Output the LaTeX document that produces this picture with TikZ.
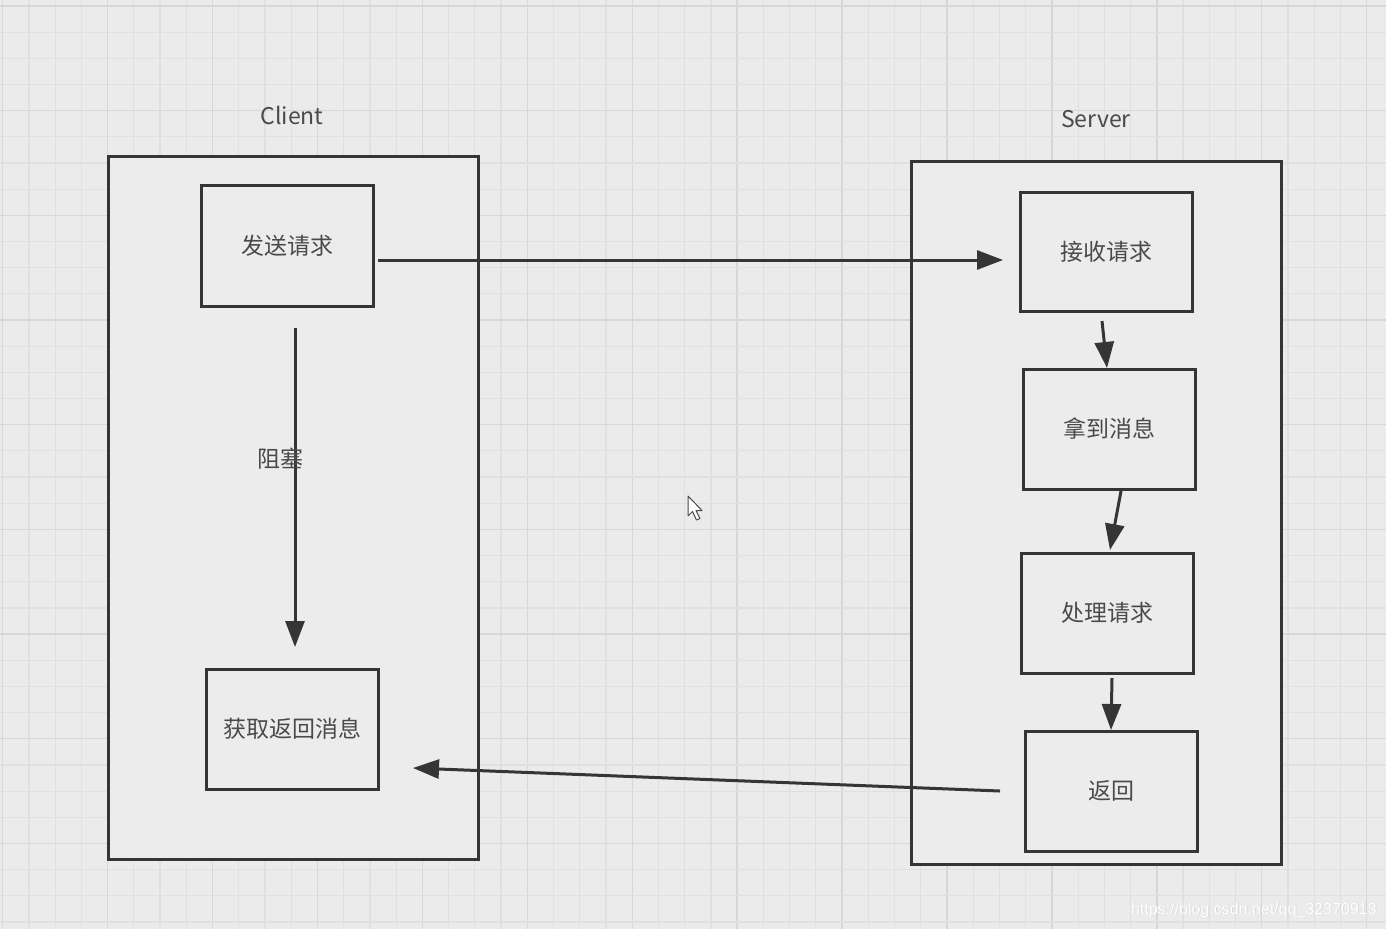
\documentclass[tikz,border=0pt]{standalone}
\usepackage{fontspec}
\setmainfont{Noto Sans CJK SC}
\newfontfamily\wmfont{Liberation Sans}
\usetikzlibrary{arrows.meta}
\definecolor{bg}{HTML}{EBEBEB}
\definecolor{inner}{HTML}{ECECEC}
\definecolor{gridminor}{HTML}{E0E0E0}
\definecolor{gridmajor}{HTML}{D7D7D7}
\definecolor{edge}{HTML}{353535}
\definecolor{txt}{HTML}{4A4A4A}
\begin{document}
\begin{tikzpicture}[x=1pt,y=-1pt,
  frame/.style={draw=edge,fill=inner,line width=3pt,inner sep=0pt,minimum width=370pt,minimum height=703pt},
  box/.style={draw=edge,fill=inner,line width=3pt,inner sep=0pt,minimum width=172pt,minimum height=120pt,
    font=\fontsize{23}{23}\selectfont,text=txt},
  lbl/.style={font=\fontsize{23}{23}\selectfont,text=txt,inner sep=0pt},
  flow/.style={draw=edge,line width=3pt,-{Triangle[length=26pt,width=19pt]}}]
\useasboundingbox (0,0) rectangle (1386,929);
\fill[bg] (0,0) rectangle (1386,929);
% grid
\foreach \i in {0,...,53} {
  \pgfmathsetmacro{\gx}{2.7+26.23*\i}
  \pgfmathtruncatemacro{\m}{mod(\i,4)}
  \ifnum\m=0
    \draw[gridmajor,line width=1.4pt] (\gx,0) -- (\gx,929);
  \else
    \draw[gridminor,line width=1.2pt] (\gx,0) -- (\gx,929);
  \fi
}
\foreach \i in {0,...,35} {
  \pgfmathsetmacro{\gy}{6+26.17*\i}
  \pgfmathtruncatemacro{\m}{mod(\i,4)}
  \ifnum\m=0
    \draw[gridmajor,line width=1.4pt] (0,\gy) -- (1386,\gy);
  \else
    \draw[gridminor,line width=1.2pt] (0,\gy) -- (1386,\gy);
  \fi
}
% frames
\node[frame] (client) at (293,507.5) {};
\node[frame] (server) at (1096,512.5) {};
\node[lbl] (clientlbl) at (292,115) {Client};
\node[lbl] (serverlbl) at (1096,119) {Server};
% boxes
\node[box,minimum height=121pt] (send) at (287,245.5) {发送请求};
\node[box] (get) at (292,729) {获取返回消息};
\node[box,minimum height=119pt] (recv) at (1106,251.5) {接收请求};
\node[box] (take) at (1109,429) {拿到消息};
\node[box] (proc) at (1107,613) {处理请求};
\node[box] (ret) at (1111,791) {返回};
% connector ends
\coordinate (a1s) at (378,260); \coordinate (a1e) at (1003,260);
\coordinate (a2s) at (295,328); \coordinate (a2e) at (295,647);
\coordinate (a3s) at (1102,321); \coordinate (a3e) at (1107,368);
\coordinate (a4s) at (1121,491); \coordinate (a4e) at (1110,550);
\coordinate (a5s) at (1112,678); \coordinate (a5e) at (1111,730);
\coordinate (a6s) at (1000,791); \coordinate (a6e) at (413,768);
\draw[flow] (a1s) -- (a1e);
\draw[flow] (a2s) -- (a2e);
\draw[flow] (a3s) -- (a3e);
\draw[flow] (a4s) -- (a4e);
\draw[flow] (a5s) -- (a5e);
\draw[flow] (a6s) -- (a6e);
\node[lbl] (block) at (280,459) {阻塞};
% mouse cursor
\draw[fill=white,draw=black!70,line width=1pt,line join=round]
  (688,496) -- (688,516) -- (692.5,511.5) -- (696.5,520) -- (700,518.5) -- (696,510.5) -- (702,510.5) -- cycle;
% watermark
\node[font=\wmfont\fontsize{16}{16}\selectfont,text=black!16,inner sep=0pt] at (1254.8,910.8) {https://blog.csdn.net/qq\_32370913};
\node[font=\wmfont\fontsize{16}{16}\selectfont,text=white,inner sep=0pt] (wm) at (1254,910) {https://blog.csdn.net/qq\_32370913};
\end{tikzpicture}
\end{document}
